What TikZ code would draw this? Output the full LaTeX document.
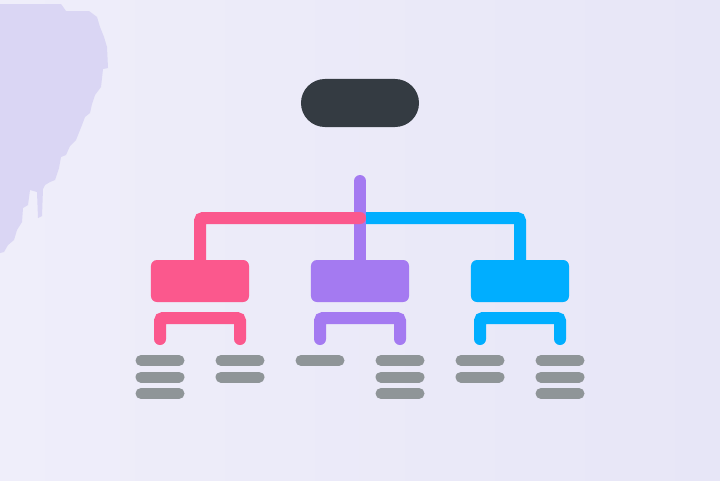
\documentclass[tikz,border=0pt]{standalone}
\usetikzlibrary{positioning}
\definecolor{bgleft}{HTML}{EFEEFA}
\definecolor{bgright}{HTML}{E7E6F7}
\definecolor{blobc}{HTML}{DAD6F4}
\definecolor{darkc}{HTML}{343B42}
\definecolor{pinkc}{HTML}{FB588D}
\definecolor{purplec}{HTML}{A47AF1}
\definecolor{bluec}{HTML}{00AEFF}
\definecolor{barc}{HTML}{8F9598}
\begin{document}
\begin{tikzpicture}[x=0.025cm,y=-0.025cm,
	box/.style={rectangle, rounded corners=0.15cm, minimum width=2.45cm, minimum height=1.05cm, inner sep=0pt},
	wire/.style={line width=0.3cm, line cap=round, rounded corners=0.075cm},
	bar/.style={draw=barc, line width=0.275cm, line cap=round}]
			\shade[left color=bgleft, right color=bgright] (0,0) rectangle (720,480);
			\useasboundingbox (0,0) rectangle (720,480);
			\fill[blobc] (0,4) -- (61,4) -- (66,11) -- (89,11) -- (97,17) -- (100,27) -- (104,37) -- (107,47)
				-- (108,68) -- (103,69) -- (101,87) -- (95,95) -- (92,104) -- (90,113) -- (85,117) -- (82,125)
				-- (76,140) -- (70,146) -- (66,155) -- (61,157) -- (59,168) -- (55,180) -- (50,182) -- (45,185)
				-- (43,189) -- (42,216) -- (38,218) -- (37,192) -- (30,190) -- (28,205) -- (23,208) -- (22,222)
				-- (17,230) -- (14,240) -- (8,245) -- (4,252) -- (0,253) -- cycle;
			
			\node[fill=darkc, rounded corners=0.6cm, minimum width=2.95cm, minimum height=1.2cm, inner sep=0pt] (root) at (360,103) {};
			
			\node[box, fill=pinkc]   (pink)   at (200,281) {};
			\node[box, fill=purplec] (purple) at (360,281) {};
			\node[box, fill=bluec]   (blue)   at (520,281) {};
			
			\coordinate (top) at (360,181);
			\coordinate (mid) at (360,218);
			
			\draw[wire, draw=bluec] (mid) -| (blue.north);
			\draw[wire, draw=purplec] (top) -- (purple.north);
			\draw[wire, draw=pinkc] (pink.north) |- (mid);
			
			\foreach \c/\x in {pinkc/200, purplec/360, bluec/520} {
				\coordinate (l\x) at (\x-40,339);
				\coordinate (r\x) at (\x+40,339);
				\draw[wire, draw=\c] (l\x) -- ++(0,-21) -| (r\x);
			}
			
			\foreach \x/\n in {160/3, 240/2, 320/1, 400/3, 480/2, 560/3}
				\foreach \k in {1,...,\n}
					\draw[bar] (\x-19,344+16.5*\k) -- (\x+19,344+16.5*\k);
			%\draw[bar] (root) -- (top);
		\end{tikzpicture}
\end{document}
